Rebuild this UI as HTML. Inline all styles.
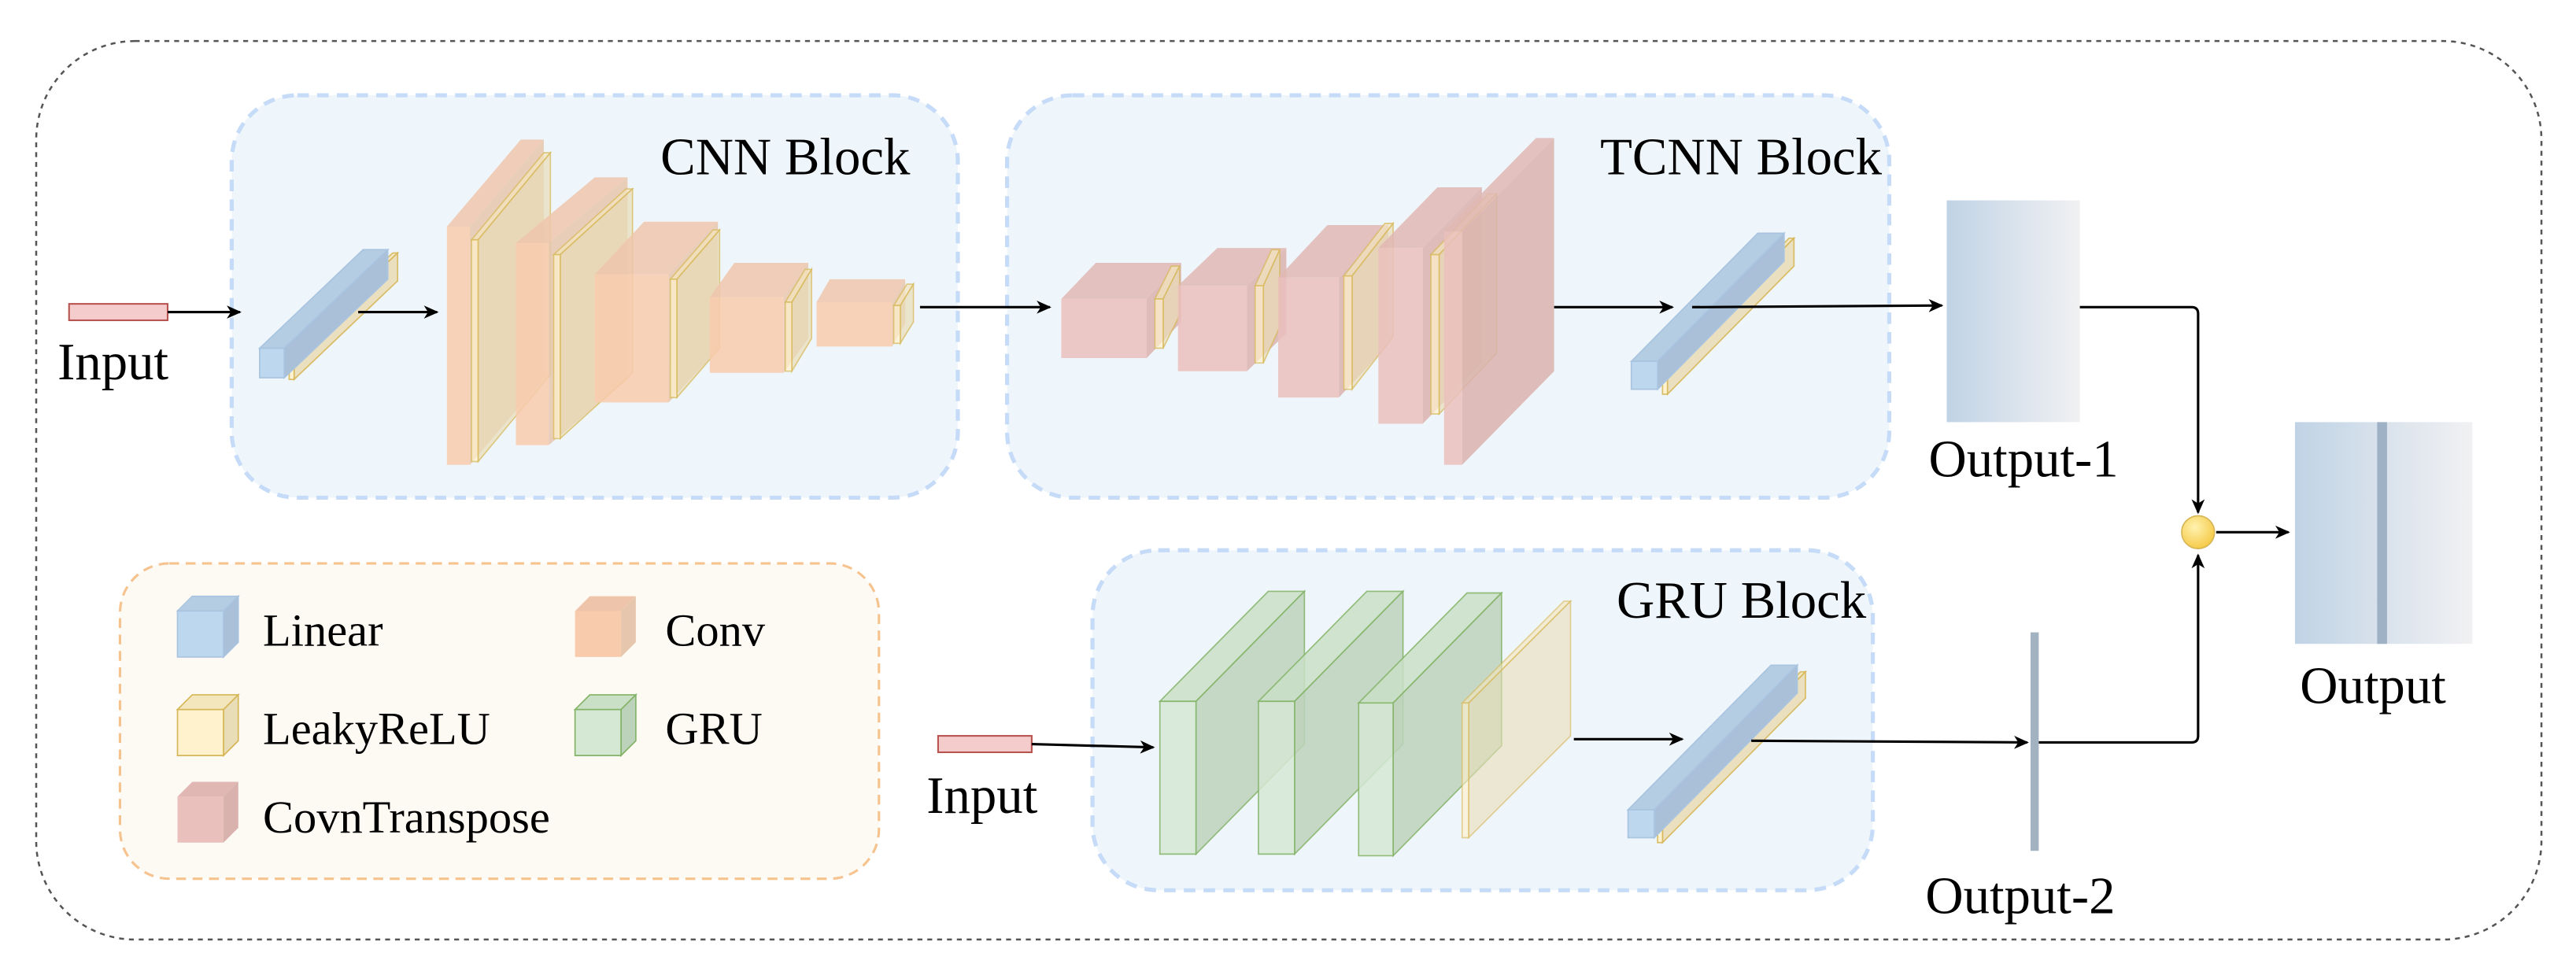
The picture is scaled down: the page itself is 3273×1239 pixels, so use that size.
<!DOCTYPE html>
<html><head><meta charset="utf-8"><style>
html,body{margin:0;padding:0;background:#fff;}
svg{display:block;}
svg text{font-family:'Liberation Serif','Times New Roman',Times,serif;}
</style></head><body>
<svg id="s" width="3273" height="1239" viewBox="0 0 1568 593.6" xmlns="http://www.w3.org/2000/svg">
<defs>
<linearGradient id="og" x1="0" x2="1" y1="0" y2="0"><stop offset="0" stop-color="#c0d3e5"/><stop offset="1" stop-color="#f1f1f3"/></linearGradient>
<radialGradient id="cg" cx="0.4" cy="0.35" r="0.7"><stop offset="0" stop-color="#fff2b0"/><stop offset="1" stop-color="#f5c842"/></radialGradient>
<marker id="ar" markerWidth="10" markerHeight="10" refX="8" refY="4" orient="auto" markerUnits="userSpaceOnUse"><path d="M0,0 L9,4 L0,8 L2.5,4 Z" fill="#000"/></marker>
</defs>
<rect x="0" y="0" width="1568" height="594" fill="#fff"/>
<rect x="22" y="25" width="1525" height="547" rx="60" fill="none" stroke="#555" stroke-width="1.2" stroke-dasharray="3,3"/>
<rect x="141" y="58" width="442" height="245" rx="40" fill="#eff6fb" stroke="#c5dbf7" stroke-width="2.5" stroke-dasharray="7,5"/>
<rect x="613" y="58" width="537" height="245" rx="40" fill="#eff6fb" stroke="#c5dbf7" stroke-width="2.5" stroke-dasharray="7,5"/>
<rect x="665" y="335" width="475" height="207" rx="40" fill="#eff6fb" stroke="#c5dbf7" stroke-width="2.5" stroke-dasharray="7,5"/>
<rect x="73" y="343" width="462" height="192" rx="30" fill="#fdf9f3" stroke="#f6c38e" stroke-width="1.5" stroke-dasharray="6,4"/>
<g id="boxes"></g>
<rect x="42" y="185" width="60" height="10" fill="#f5cccc" stroke="#b85450" stroke-width="1"/>
<rect x="571" y="448" width="57" height="10" fill="#f5cccc" stroke="#b85450" stroke-width="1"/>
<g stroke="#000" stroke-width="1.5" fill="none">
<line x1="102" y1="190" x2="146" y2="190" marker-end="url(#ar)"/>
<line x1="218" y1="190" x2="266" y2="190" marker-end="url(#ar)"/>
<line x1="560" y1="187" x2="639" y2="187" marker-end="url(#ar)"/>
<line x1="946" y1="187" x2="1018" y2="187" marker-end="url(#ar)"/>
<line x1="1030" y1="187" x2="1182" y2="186" marker-end="url(#ar)"/>
<path d="M1266,187 L1334,187 Q1338,187 1338,191 L1338,312" marker-end="url(#ar)"/>
<line x1="1349" y1="324" x2="1393" y2="324" marker-end="url(#ar)"/>
<path d="M628,453 L702,455" marker-end="url(#ar)"/>
<line x1="958" y1="450" x2="1024" y2="450" marker-end="url(#ar)"/>
<line x1="1066" y1="451" x2="1234" y2="452" marker-end="url(#ar)"/>
<path d="M1241,452 L1334,452 Q1338,452 1338,448 L1338,338" marker-end="url(#ar)"/>
</g>
<rect x="1185" y="122" width="81" height="135" fill="url(#og)"/>
<rect x="1397" y="257" width="108" height="135" fill="url(#og)"/>
<rect x="1447" y="257" width="6" height="135" fill="#9fb1c4"/>
<rect x="1236" y="385" width="5" height="133" fill="#a2b2c0"/>
<ellipse cx="1338" cy="324" rx="10" ry="10" fill="url(#cg)" stroke="#d6b656" stroke-width="0.8"/>
<g font-size="32" fill="#000">
<text x="35" y="231">Input</text>
<text x="564" y="495">Input</text>
<text x="402" y="106">CNN Block</text>
<text x="974" y="106">TCNN Block</text>
<text x="984" y="376">GRU Block</text>
<text x="1174" y="290">Output-1</text>
<text x="1172" y="556">Output-2</text>
<text x="1400" y="428">Output</text>
</g>
<g font-size="28" fill="#000">
<text x="160" y="393">Linear</text>
<text x="405" y="393">Conv</text>
<text x="160" y="453">LeakyReLU</text>
<text x="405" y="453">GRU</text>
<text x="160" y="507">CovnTranspose</text>
</g>
</svg>
<script>
var g=document.getElementById('boxes');var ns='http://www.w3.org/2000/svg';
function poly(pts,fill,stroke,op){var p=document.createElementNS(ns,'polygon');p.setAttribute('points',pts.map(function(a){return a.join(',')}).join(' '));p.setAttribute('fill',fill);p.setAttribute('fill-opacity',op);if(stroke){p.setAttribute('stroke',stroke);p.setAttribute('stroke-width','0.8');p.setAttribute('stroke-opacity',op)}g.appendChild(p);}
function box(x,y,w,h,dx,dy,c,op){op=op||0.85;
poly([[x,y],[x+w,y],[x+w+dx,y+dy],[x+dx,y+dy]],c[1],c[3],op);
poly([[x+w,y],[x+w,y+h],[x+w+dx,y+h+dy],[x+w+dx,y+dy]],c[2],c[3],op);
poly([[x,y],[x+w,y],[x+w,y+h],[x,y+h]],c[0],c[3],op);}
var B=['#bdd7ee','#b4cde3','#a9c0d8','#a9c4e0'];
var Y=['#fff2cc','#f3e6bd','#e9ddb8','#d6b656'];
var C=['#f8cbad','#eec5ab','#e6c7ad',null];
var T=['#eac0bc','#e0b7b3','#d9b2ad',null];
var G=['#d5e8d4','#c9dfc6','#bdd2bb','#82b366'];
box(176,214,3,17,63,-60,Y,0.9);box(158,212,15,18,63,-60,B,1);
box(272,138,14,145,45,-53,C,0.85);box(287,146,4,135,44,-53,Y,0.7);
box(314,148,20,123,48,-40,C,0.85);box(337,155,4,112,44,-40,Y,0.7);
box(362,167,45,78,30,-32,C,0.85);box(408,170,4,72,26,-30,Y,0.7);
box(432,181,45,46,15,-21,C,0.85);box(478,184,4,42,12,-20,Y,0.7);
box(497,184,46,27,8,-14,C,0.85);box(544,186,4,23,8,-13,Y,0.7);
box(646,182,52,36,21,-22,T,0.85);box(703,182,5,30,10,-20,Y,0.7);
box(717,174,42,52,24,-23,T,0.85);box(764,174,5,47,10,-22,Y,0.7);
box(778,169,37,73,30,-32,T,0.85);box(818,168,5,69,25,-32,Y,0.7);
box(839,151,27,107,36,-37,T,0.85);box(871,155,5,97,35,-37,Y,0.7);
box(879,141,11,142,56,-57,T,0.85);
box(1012,223,3,17,77,-78,Y,0.9);box(993,220,16,17,77,-78,B,1);
box(706,427,22,93,66,-67,G,0.85);box(766,427,22,93,66,-67,G,0.85);box(827,428,21,93,66,-67,G,0.85);
box(890,428,4,82,62,-62,Y,0.6);
box(1009,497,3,16,87,-88,Y,0.9);box(991,493,16,17,87,-88,B,1);
box(108,372,28,28,9,-9,B,1);box(350,372,28,28,9,-9,C,1);
box(108,432,28,28,9,-9,Y,1);box(350,432,28,28,9,-9,G,1);
box(108,485,28,28,9,-9,T,1);
</script>
</body></html>
